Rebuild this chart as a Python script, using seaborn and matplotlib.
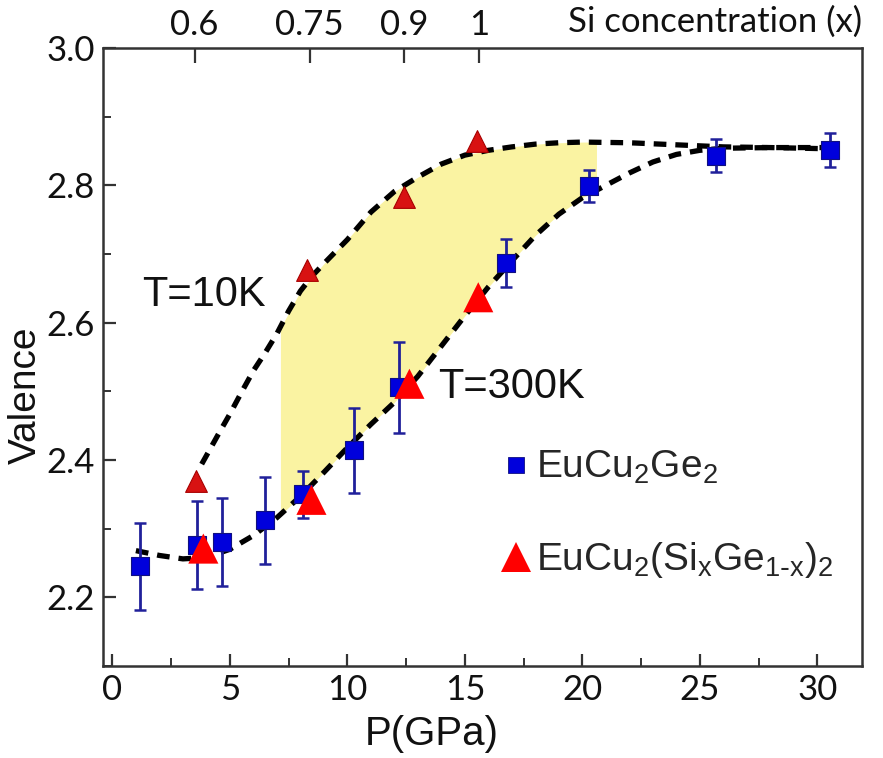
import numpy as np
import pandas as pd
import matplotlib
matplotlib.use("Agg")
import matplotlib.pyplot as plt
from matplotlib.lines import Line2D
from matplotlib.ticker import MultipleLocator
import seaborn as sns

# EuCu2Ge2 valence vs pressure (with error bars)
ge_p = [1.18, 3.59, 4.67, 6.50, 8.10, 10.27, 12.21, 16.75, 20.30, 25.69, 30.54]
ge_v = [2.245, 2.276, 2.280, 2.312, 2.350, 2.414, 2.506, 2.687, 2.799, 2.843, 2.851]
ge_err = [0.063, 0.064, 0.064, 0.063, 0.034, 0.062, 0.066, 0.035, 0.024, 0.024, 0.025]

# EuCu2(SixGe1-x)2 at T=10K
si10_p = [3.57, 8.30, 12.43, 15.53]
si10_v = [2.369, 2.677, 2.783, 2.865]

# EuCu2(SixGe1-x)2 at T=300K
si300_p = [3.87, 8.47, 12.64, 15.57]
si300_v = [2.271, 2.342, 2.511, 2.637]

# Guide-to-the-eye curves
curve10_p = [3.8, 4.5, 5.0, 5.5, 6.0, 6.5, 7.0, 7.5, 8.0, 8.5, 9.0, 10.0, 11.0, 12.0,
             13.0, 14.0, 15.0, 16.0, 17.0, 18.0, 19.0, 20.0, 22.0, 24.0, 26.0, 28.0, 30.8]
curve10_v = [2.394, 2.437, 2.467, 2.499, 2.530, 2.556, 2.584, 2.617, 2.646, 2.668, 2.686,
             2.721, 2.761, 2.791, 2.812, 2.831, 2.844, 2.851, 2.856, 2.860, 2.862, 2.863,
             2.862, 2.859, 2.856, 2.855, 2.853]
curve300_p = [1.0, 2.0, 3.0, 4.0, 5.0, 6.0, 7.0, 8.0, 9.0, 10.0, 11.0, 12.0, 13.0, 14.0,
              15.0, 16.0, 17.0, 18.0, 19.0, 20.0, 21.0, 22.0, 23.0, 24.0, 25.0, 26.0, 28.0, 30.8]
curve300_v = [2.268, 2.261, 2.256, 2.258, 2.270, 2.290, 2.316, 2.347, 2.382, 2.418, 2.452,
              2.484, 2.522, 2.566, 2.610, 2.652, 2.690, 2.727, 2.758, 2.782, 2.800, 2.818,
              2.834, 2.845, 2.851, 2.854, 2.855, 2.855]

# Shaded region between the two temperatures
band_p = [7.15, 8.0, 9.0, 10.0, 11.0, 12.0, 13.0, 14.0, 15.0, 16.0, 17.0, 18.0, 19.0, 20.0, 20.6]
band_top = [2.592, 2.646, 2.686, 2.721, 2.761, 2.791, 2.812, 2.831, 2.844, 2.851, 2.856,
            2.860, 2.862, 2.863, 2.863]
band_bottom = [2.320, 2.347, 2.382, 2.418, 2.452, 2.484, 2.522, 2.566, 2.610, 2.652, 2.690,
               2.727, 2.758, 2.782, 2.793]

# Top axis: Si concentration
si_tick_p = [3.5, 8.4, 12.4, 15.6]
si_tick_labels = ["0.6", "0.75", "0.9", "1"]

sns.set_style("ticks")
plt.rcParams["font.family"] = ["Liberation Sans", "DejaVu Sans"]
plt.rcParams["mathtext.default"] = "regular"

tick_font = "Lato"
text_color = "#111111"
W, H = 883, 758

fig = plt.figure(figsize=(W / 100, H / 100), dpi=100)
ax = fig.add_axes([103 / W, 1 - 666 / H, 759 / W, 618 / H])

ax.fill_between(band_p, band_bottom, band_top, color="#faf3a2", linewidth=0, zorder=1)

dash_kw = dict(color="black", linewidth=3.8, dashes=(2.4, 1.7), zorder=2, legend=False)
sns.lineplot(x=curve10_p, y=curve10_v, ax=ax, **dash_kw)
sns.lineplot(x=curve300_p, y=curve300_v, ax=ax, **dash_kw)

ax.errorbar(ge_p, ge_v, yerr=ge_err, fmt="none", ecolor="#20209a", elinewidth=2.0,
            capsize=4.3, capthick=1.8, zorder=3)
sns.scatterplot(x=ge_p, y=ge_v, ax=ax, marker="s", s=150, color="#0000dc",
                edgecolor="#101080", linewidth=0.8, zorder=4)
sns.scatterplot(x=si10_p, y=si10_v, ax=ax, marker="^", s=245, color="#d81212",
                edgecolor="#a80000", linewidth=0.8, zorder=5)
sns.scatterplot(x=si300_p, y=si300_v, ax=ax, marker="^", s=470, color="#ff0000",
                edgecolor="none", linewidth=0, zorder=5)

ax.set_xlim(-0.4, 31.9)
ax.set_ylim(2.1, 3.0)
ax.xaxis.set_major_locator(MultipleLocator(5))
ax.xaxis.set_minor_locator(MultipleLocator(2.5))
ax.yaxis.set_minor_locator(MultipleLocator(0.1))
ax.set_yticks([2.2, 2.4, 2.6, 2.8, 3.0])
ax.set_yticklabels(["2.2", "2.4", "2.6", "2.8", "3.0"])

for side in ["left", "right", "top", "bottom"]:
    ax.spines[side].set_color("#333333")
    ax.spines[side].set_linewidth(1.8)

ax.tick_params(which="major", direction="in", length=9, width=1.6, color="#333333",
               labelsize=25, labelcolor=text_color, pad=6)
ax.tick_params(which="minor", direction="in", length=6, width=1.4, color="#333333")
ax.tick_params(axis="y", which="both", right=False)
ax.tick_params(axis="x", which="both", top=False)
for lab in ax.get_xticklabels() + ax.get_yticklabels():
    lab.set_fontfamily(tick_font)

top = ax.secondary_xaxis("top")
top.set_xticks(si_tick_p)
top.set_xticklabels(si_tick_labels)
top.tick_params(direction="in", length=11, width=1.6, color="#333333", labelsize=25,
                labelcolor=text_color, pad=5)
for lab in top.get_xticklabels():
    lab.set_fontfamily(tick_font)
top.spines["top"].set_visible(False)

ax.text(1.0, (666 - 22) / 618, "Si concentration (x)", transform=ax.transAxes,
        ha="right", va="center", fontsize=25, fontfamily=tick_font, color=text_color)

# Axis titles
fig.text(432 / W, 1 - 734 / H, "P(GPa)", fontsize=29, ha="center", va="center",
         color=text_color)
fig.text(26 / W, 1 - 395 / H, "Valence", fontsize=28, ha="center", va="center",
         rotation=90, color=text_color)

ax.text(3.9, 2.641, "T=10K", fontsize=30, ha="center", va="center", color=text_color)
ax.text(17.0, 2.507, "T=300K", fontsize=30, ha="center", va="center", color=text_color)

handles = [
    Line2D([], [], linestyle="none", marker="s", markersize=12, color="#0000dc",
           markeredgecolor="#101080", markeredgewidth=0.6),
    Line2D([], [], linestyle="none", marker="^", markersize=21.5, color="#ff0000",
           markeredgewidth=0),
]
labels = [r"EuCu$_2$Ge$_2$", r"EuCu$_2$(Si$_x$Ge$_{1\text{-}x}$)$_2$"]
ax.legend(handles, labels, loc="upper left", bbox_to_anchor=(0.505, 0.376), frameon=False,
          fontsize=28, handlelength=0.75, handletextpad=0.12, labelspacing=1.38,
          borderaxespad=0)

fig.savefig("out.png", dpi=100)
